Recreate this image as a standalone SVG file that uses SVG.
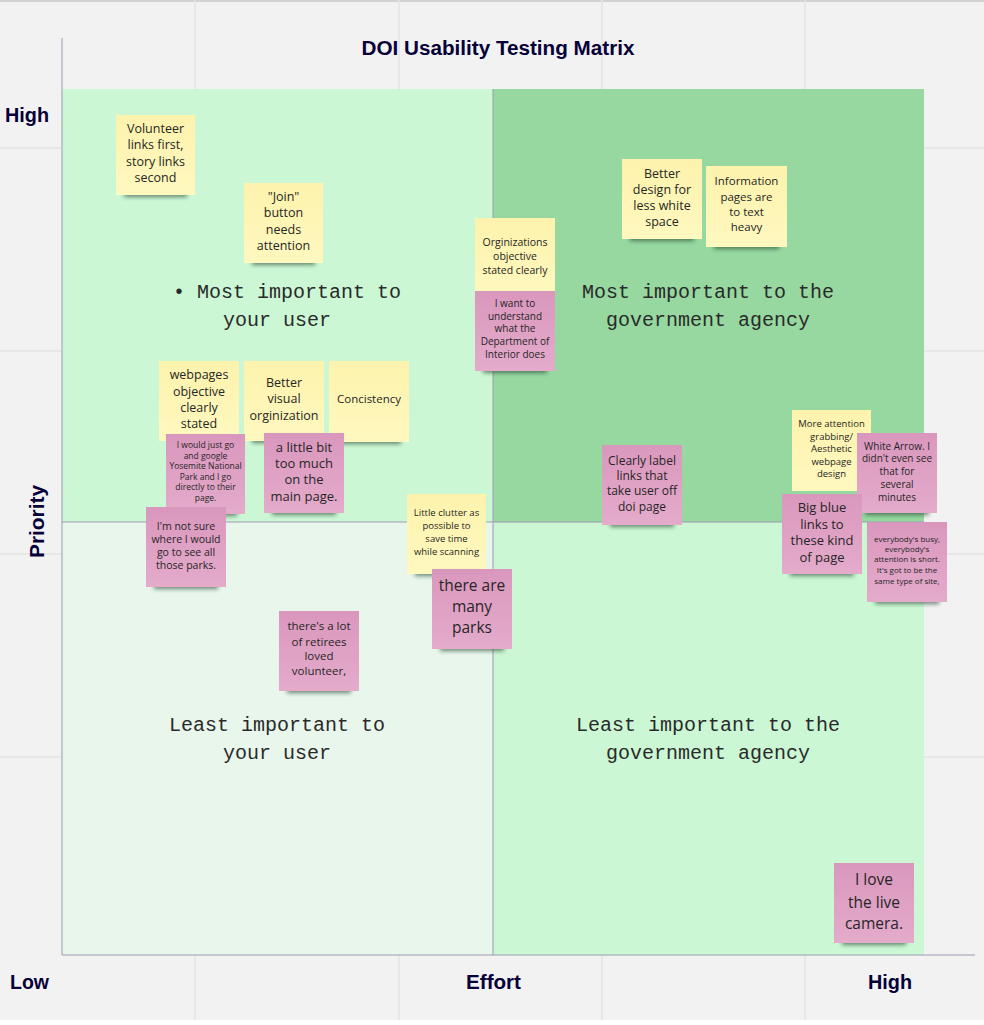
<svg xmlns="http://www.w3.org/2000/svg" width="984" height="1025" viewBox="0 0 984 1025">
<defs>
<linearGradient id="gp" x1="0" y1="0" x2="0" y2="1"><stop offset="0" stop-color="#da97bd"/><stop offset="1" stop-color="#e4abcb"/></linearGradient>
<linearGradient id="gy" x1="0" y1="0" x2="0" y2="1"><stop offset="0" stop-color="#fdf3ad"/><stop offset="1" stop-color="#fff8bf"/></linearGradient>
<filter id="blur" x="-20%" y="-100%" width="140%" height="300%"><feGaussianBlur stdDeviation="2"/></filter>
<style>
.grid{stroke:#e4e4e4;stroke-width:1.5;fill:none}
.axis{stroke:#9b9bb2;stroke-width:1;fill:none}
.ax{font-family:"Liberation Sans",Roboto,sans-serif;font-weight:700;fill:#050038;font-size:20px}
.q{font-family:"Liberation Mono","DejaVu Sans Mono",monospace;font-size:20px;fill:#2a2a2a;text-anchor:middle}
.sh{fill:#1d3a25;opacity:0.6;filter:url(#blur)}
.py{fill:url(#gy)}
.pp{fill:url(#gp)}
.t{font-family:"Open Sans","Noto Sans",sans-serif;fill:#262626;text-anchor:middle}
</style>
</defs>
<rect x="0" y="0" width="984" height="1025" fill="#f2f2f2"/>
<rect x="0" y="1020" width="984" height="5" fill="#ffffff"/>
<line x1="0" y1="1" x2="984" y2="1" stroke="#d2d2d2" stroke-width="2"/>
<g id="grid">
<path class="grid" d="M195,0V1020M399,0V1020M602,0V1020M805,0V1020M0,148H984M0,351H984M0,554H984M0,757H984"/>
</g>
<g id="quadrants">
<rect x="62" y="89" width="431" height="433" fill="#ccf7d5"/>
<rect x="493" y="89" width="431" height="433" fill="#96d8a0"/>
<rect x="62" y="522" width="431" height="433" fill="#e8f6ec"/>
<rect x="493" y="522" width="431" height="433" fill="#ccf7d5"/>
<path class="axis" d="M493,89V955M62,522H924"/>
</g>
<g id="axes">
<path class="axis" d="M62,38V955H975"/>
<text x="498" y="55" class="ax" text-anchor="middle" textLength="273" lengthAdjust="spacingAndGlyphs">DOI Usability Testing Matrix</text>
<text x="5" y="122" class="ax" textLength="44" lengthAdjust="spacingAndGlyphs">High</text>
<text x="10" y="989" class="ax" textLength="39" lengthAdjust="spacingAndGlyphs">Low</text>
<text x="493.5" y="989" class="ax" text-anchor="middle" textLength="55" lengthAdjust="spacingAndGlyphs">Effort</text>
<text x="890" y="989" class="ax" text-anchor="middle" textLength="44" lengthAdjust="spacingAndGlyphs">High</text>
<text x="0" y="0" class="ax" text-anchor="middle" transform="translate(44,521.5) rotate(-90)" textLength="73" lengthAdjust="spacingAndGlyphs">Priority</text>
</g>
<g id="quadrant-labels">
<text class="q" x="287" y="298">• Most important to</text>
<text class="q" x="277" y="326">your user</text>
<text class="q" x="708" y="298">Most important to the</text>
<text class="q" x="708" y="326">government agency</text>
<text class="q" x="277" y="731">Least important to</text>
<text class="q" x="277" y="759">your user</text>
<text class="q" x="708" y="731">Least important to the</text>
<text class="q" x="708" y="759">government agency</text>
</g>
<g id="connectors">
<path d="M186,503V514H205V522" fill="none" stroke="#8a7f86" stroke-width="1"/>
</g>
<g id="n1"><rect class="sh" x="124" y="191" width="63" height="6"/><rect class="py" x="116" y="115" width="79" height="80"/>
<text class="t" font-size="12.5"><tspan x="155.5" y="132.5">Volunteer</tspan><tspan x="155.5" y="149">links first,</tspan><tspan x="155.5" y="165.5">story links</tspan><tspan x="155.5" y="182">second</tspan></text></g>
<g id="n2"><rect class="sh" x="252" y="259" width="63" height="6"/><rect class="py" x="244" y="183" width="79" height="80"/>
<text class="t" font-size="12.5"><tspan x="283.5" y="200.5">"Join"</tspan><tspan x="283.5" y="217">button</tspan><tspan x="283.5" y="233.5">needs</tspan><tspan x="283.5" y="250">attention</tspan></text></g>
<g id="n4"><rect class="sh" x="630" y="235" width="64" height="6"/><rect class="py" x="622" y="159" width="80" height="80"/>
<text class="t" font-size="12.5"><tspan x="662" y="177.5">Better</tspan><tspan x="662" y="193.5">design for</tspan><tspan x="662" y="209.5">less white</tspan><tspan x="662" y="226">space</tspan></text></g>
<g id="n5"><rect class="sh" x="714" y="243" width="65" height="6"/><rect class="py" x="706" y="166" width="81" height="81"/>
<text class="t" font-size="11.5"><tspan x="746.5" y="185">Information</tspan><tspan x="746.5" y="201">pages are</tspan><tspan x="746.5" y="216">to text</tspan><tspan x="746.5" y="231">heavy</tspan></text></g>
<g id="n3"><rect class="py" x="475" y="218" width="80" height="80"/>
<text class="t" font-size="10.5"><tspan x="515" y="245.5">Orginizations</tspan><tspan x="515" y="259.5">objective</tspan><tspan x="515" y="273.5">stated clearly</tspan></text></g>
<g id="n3b"><rect class="sh" x="483" y="367" width="64" height="6"/><rect class="pp" x="475" y="291" width="80" height="80"/>
<text class="t" font-size="10"><tspan x="515" y="306.5">I want to</tspan><tspan x="515" y="319.5">understand</tspan><tspan x="515" y="332">what the</tspan><tspan x="515" y="344.5">Department of</tspan><tspan x="515" y="357.5">Interior does</tspan></text></g>
<g id="n6"><rect class="py" x="159" y="361" width="80" height="80"/>
<text class="t" font-size="12.5"><tspan x="199" y="379">webpages</tspan><tspan x="199" y="395.5">objective</tspan><tspan x="199" y="411.5">clearly</tspan><tspan x="199" y="428">stated</tspan></text></g>
<g id="n7"><rect class="sh" x="252" y="437" width="64" height="6"/><rect class="py" x="244" y="361" width="80" height="80"/>
<text class="t" font-size="12.5"><tspan x="284" y="386.5">Better</tspan><tspan x="284" y="403">visual</tspan><tspan x="284" y="419.5">orginization</tspan></text></g>
<g id="n8"><rect class="sh" x="337" y="438" width="64" height="6"/><rect class="py" x="329" y="361" width="80" height="81"/>
<text class="t" font-size="11.5"><tspan x="369" y="403">Concistency</tspan></text></g>
<g id="n9"><rect class="sh" x="174" y="510" width="63" height="6"/><rect class="pp" x="166" y="434" width="79" height="80"/>
<text class="t" font-size="8.5"><tspan x="205.5" y="448">I would just go</tspan><tspan x="205.5" y="459">and google</tspan><tspan x="205.5" y="469">Yosemite National</tspan><tspan x="205.5" y="480">Park and I go</tspan><tspan x="205.5" y="490">directly to their</tspan><tspan x="205.5" y="501">page.</tspan></text></g>
<g id="n10"><rect class="sh" x="272" y="509" width="64" height="6"/><rect class="pp" x="264" y="433" width="80" height="80"/>
<text class="t" font-size="13"><tspan x="304" y="451.5">a little bit</tspan><tspan x="304" y="467.5">too much</tspan><tspan x="304" y="484">on the</tspan><tspan x="304" y="500.5">main page.</tspan></text></g>
<g id="n11"><rect class="sh" x="154" y="583" width="64" height="6"/><rect class="pp" x="146" y="507" width="80" height="80"/>
<text class="t" font-size="10.5"><tspan x="186" y="529.5">I'm not sure</tspan><tspan x="186" y="542.5">where I would</tspan><tspan x="186" y="555.5">go to see all</tspan><tspan x="186" y="568.5">those parks.</tspan></text></g>
<g id="n12"><rect class="sh" x="415" y="570" width="63" height="6"/><rect class="py" x="407" y="494" width="79" height="80"/>
<text class="t" font-size="9.5"><tspan x="446.5" y="515.5">Little clutter as</tspan><tspan x="446.5" y="529">possible to</tspan><tspan x="446.5" y="541.5">save time</tspan><tspan x="446.5" y="554.5">while scanning</tspan></text></g>
<g id="n13"><rect class="sh" x="440" y="645" width="64" height="6"/><rect class="pp" x="432" y="569" width="80" height="80"/>
<text class="t" font-size="15.5"><tspan x="472" y="590.5">there are</tspan><tspan x="472" y="612">many</tspan><tspan x="472" y="632.5">parks</tspan></text></g>
<g id="n14"><rect class="sh" x="610" y="521" width="64" height="6"/><rect class="pp" x="602" y="445" width="80" height="80"/>
<text class="t" font-size="12"><tspan x="642" y="465">Clearly label</tspan><tspan x="642" y="480">links that</tspan><tspan x="642" y="495">take user off</tspan><tspan x="642" y="511">doi page</tspan></text></g>
<g id="n15"><rect class="py" x="792" y="410" width="79" height="81"/>
<text class="t" font-size="9.5"><tspan x="831.5" y="426.5">More attention</tspan><tspan x="831.5" y="439.5">grabbing/</tspan><tspan x="831.5" y="451.5">Aesthetic</tspan><tspan x="831.5" y="464.5">webpage</tspan><tspan x="831.5" y="476.5">design</tspan></text></g>
<g id="n16"><rect class="sh" x="865" y="509" width="64" height="6"/><rect class="pp" x="857" y="433" width="80" height="80"/>
<text class="t" font-size="10"><tspan x="897" y="449.5">White Arrow. I</tspan><tspan x="897" y="461.5">didn't even see</tspan><tspan x="897" y="474.5">that for</tspan><tspan x="897" y="487.5">several</tspan><tspan x="897" y="500.5">minutes</tspan></text></g>
<g id="n17"><rect class="sh" x="790" y="570" width="64" height="6"/><rect class="pp" x="782" y="494" width="80" height="80"/>
<text class="t" font-size="13"><tspan x="822" y="511.5">Big blue</tspan><tspan x="822" y="528.5">links to</tspan><tspan x="822" y="544.5">these kind</tspan><tspan x="822" y="561.5">of page</tspan></text></g>
<g id="n18"><rect class="sh" x="875" y="598" width="64" height="6"/><rect class="pp" x="867" y="522" width="80" height="80"/>
<text class="t" font-size="8"><tspan x="907" y="542">everybody's busy,</tspan><tspan x="907" y="552">everybody's</tspan><tspan x="907" y="562">attention is short.</tspan><tspan x="907" y="573">It's got to be the</tspan><tspan x="907" y="584">same type of site,</tspan></text></g>
<g id="n19"><rect class="sh" x="287" y="687" width="64" height="6"/><rect class="pp" x="279" y="611" width="80" height="80"/>
<text class="t" font-size="11.5"><tspan x="319" y="630">there's a lot</tspan><tspan x="319" y="646">of retirees</tspan><tspan x="319" y="660">loved</tspan><tspan x="319" y="675">volunteer,</tspan></text></g>
<g id="n20"><rect class="sh" x="842" y="939" width="64" height="6"/><rect class="pp" x="834" y="863" width="80" height="80"/>
<text class="t" font-size="15.5"><tspan x="874" y="884.5">I love</tspan><tspan x="874" y="907.5">the live</tspan><tspan x="874" y="928.5">camera.</tspan></text></g>
</svg>
